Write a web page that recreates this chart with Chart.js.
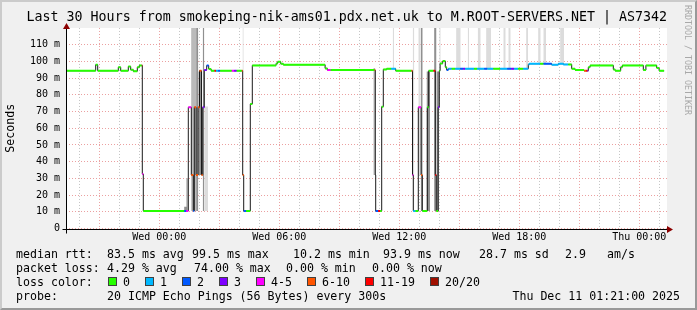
<!DOCTYPE html>
<html>
<head>
<meta charset="utf-8">
<script src="https://cdn.jsdelivr.net/npm/chart.js@4/dist/chart.umd.min.js"></script>
<style>
  html, body { margin: 0; padding: 0; background: #f0f0f0; }
  #wrap { position: relative; width: 697px; height: 310px; background: #f0f0f0; font-family: "DejaVu Sans Mono", monospace; overflow: hidden; }
  #wrap canvas { position: absolute; left: 0; top: 0; }
  .t { position: absolute; font-size: 11.6px; line-height: 14px; white-space: pre; color: #000; }
  .box { position: absolute; width: 9px; height: 9px; box-sizing: border-box; border: 1px solid #404040; }
  #mark { position: absolute; left: 683px; top: 5px; writing-mode: vertical-rl; font-size: 8.3px; line-height: 10px; color: #a8a8a8; white-space: pre; }
  #frame { position: absolute; left: 0; top: 0; right: 0; bottom: 0; border-style: solid; border-width: 2px; border-color: #cbcbcb #999 #999 #cbcbcb; pointer-events: none; }
</style>
</head>
<body>
<div id="wrap">
  <canvas id="smoke" width="697" height="310"></canvas>
  <div id="mark">RRDTOOL / TOBI OETIKER</div>

  <div class="t" style="left:16px;top:247px">median rtt:</div>
  <div class="t" style="left:107px;top:247px">83.5 ms avg</div>
  <div class="t" style="left:192px;top:247px">99.5 ms max</div>
  <div class="t" style="left:293px;top:247px">10.2 ms min</div>
  <div class="t" style="left:383px;top:247px">93.9 ms now</div>
  <div class="t" style="left:479px;top:247px">28.7 ms sd</div>
  <div class="t" style="left:565px;top:247px">2.9</div>
  <div class="t" style="left:607px;top:247px">am/s</div>

  <div class="t" style="left:16px;top:261px">packet loss:</div>
  <div class="t" style="left:107px;top:261px">4.29 % avg</div>
  <div class="t" style="left:194px;top:261px">74.00 % max</div>
  <div class="t" style="left:286px;top:261px">0.00 % min</div>
  <div class="t" style="left:372px;top:261px">0.00 % now</div>

  <div class="t" style="left:16px;top:274.5px">loss color:</div>
  <div id="lossLegend"></div>

  <div class="t" style="left:16px;top:288.5px">probe:</div>
  <div class="t" style="left:107px;top:288.5px">20 ICMP Echo Pings (56 Bytes) every 300s</div>
  <div class="t" style="right:17px;top:288.5px">Thu Dec 11 01:21:00 2025</div>

  <div id="frame"></div>
</div>
<script>
// hours relative to Wed 00:00
const stepStart = [-4.64, -3.18, -3.08, -2.05, -1.93, -1.55, -1.43, -1.30, -1.10, -1.00,
  -0.88, -0.85, -0.80, 1.24, 1.34, 1.45, 1.60, 1.70, 1.75, 1.84,
  1.94, 2.01, 2.11, 2.17, 2.25, 2.37, 2.47, 2.59, 2.75, 2.84,
  2.94, 3.04, 3.62, 3.74, 3.87, 4.12, 4.17, 4.22, 4.34, 4.55,
  4.65, 5.84, 5.92, 6.07, 6.20, 8.29, 8.40, 8.57, 10.75, 10.80,
  10.82, 10.94, 11.04, 11.12, 11.20, 11.37, 11.59, 11.82, 12.60, 12.66,
  12.70, 12.81, 12.95, 13.09, 13.15, 13.40, 13.47, 13.70, 13.80, 13.85,
  13.94, 14.00, 14.04, 14.17, 14.30, 14.37, 14.45, 14.62, 14.79, 15.04,
  15.19, 15.29, 15.74, 15.89, 16.24, 16.40, 16.70, 17.04, 17.39, 17.59,
  17.74, 17.94, 18.19, 18.45, 18.50, 19.04, 19.20, 19.62, 19.95, 20.20,
  20.45, 20.62, 20.79, 21.24, 21.34, 21.41, 21.45, 21.54, 22.70, 22.79,
  23.07, 23.15, 24.20, 24.33, 24.87, 24.99];
const lastSample = 25.24;

// median rtt (ms)
const stepMedian = [94.4, 98.0, 94.4, 96.5, 94.4, 96.9, 95.0, 94.1, 96.5, 97.6,
  97.6, 32.6, 10.5, 10.5, 10.5, 72.5, 32.0, 10.5, 72.5, 32.0,
  72.5, 94.4, 32.0, 72.5, 94.8, 97.5, 95.5, 94.4, 94.4, 94.4,
  94.4, 94.4, 94.4, 94.4, 94.4, 94.4, 32.0, 10.5, 10.5, 74.5,
  97.6, 98.8, 99.8, 98.6, 98.0, 95.8, 94.8, 94.8, 94.8, 32.0,
  10.5, 10.5, 10.5, 72.9, 95.2, 95.6, 95.6, 94.4, 94.4, 32.0,
  10.5, 10.5, 72.5, 32.0, 10.5, 72.5, 94.4, 94.4, 32.0, 10.5,
  72.5, 94.4, 98.8, 100.2, 96.5, 94.8, 95.6, 95.6, 95.6, 95.6,
  95.6, 95.6, 95.6, 95.6, 95.6, 95.6, 95.6, 95.6, 95.6, 95.6,
  95.6, 95.6, 95.6, 98.2, 98.6, 98.6, 98.6, 98.0, 98.6, 98.2,
  98.2, 95.6, 94.8, 94.4, 94.4, 94.4, 96.5, 97.6, 95.2, 94.4,
  96.5, 97.6, 94.8, 97.6, 96.1, 94.4];

// lost pings out of 20
const stepLoss = [0, 0, 0, 0, 0, 0, 0, 0, 0, 0,
  15, 5, 0, 2, 5, 5, 8, 2, 8, 8,
  8, 8, 8, 3, 3, 2, 0, 0, 15, 1,
  2, 0, 5, 3, 0, 8, 8, 2, 0, 0,
  0, 0, 0, 0, 0, 0, 5, 0, 8, 8,
  2, 15, 0, 0, 0, 0, 1, 0, 8, 5,
  1, 0, 5, 8, 0, 0, 0, 15, 15, 0,
  3, 0, 0, 0, 0, 2, 1, 0, 1, 2,
  3, 1, 0, 1, 2, 1, 0, 1, 2, 3,
  1, 0, 1, 1, 1, 0, 2, 1, 1, 1,
  0, 0, 0, 8, 15, 3, 0, 0, 0, 0,
  0, 0, 0, 0, 0, 0];

// smoke: spread of the individual pings
const smokeFrom  = [1.24, 1.34, 1.59, 1.70, 1.84, 1.95, 2.17, 2.25, 4.16, 10.70,
  11.67, 12.67, 12.95, 13.07, 13.36, 13.74, 13.86, 14.00, 14.84, 15.42,
  15.92, 16.34, 17.20, 17.45, 18.34, 18.94, 19.20, 20.04];
const smokeTo    = [1.40, 1.45, 1.84, 1.84, 1.95, 2.11, 2.25, 2.44, 4.22, 10.80,
  11.74, 12.75, 13.07, 13.17, 13.54, 13.86, 13.99, 14.07, 15.07, 15.49,
  16.07, 16.59, 17.32, 17.57, 18.44, 19.07, 19.34, 20.24];
const smokeLo    = [10.5, 10.5, 10.5, 10.5, 10.5, 32, 10.5, 10.5, 94, 32,
  96, 10.5, 32, 10.5, 10.5, 10.5, 10.5, 95, 96, 96,
  96, 96, 96, 96, 96, 98.5, 98.5, 98.5];
const smokeHi    = [13, 30, 120, 94, 120, 94, 120, 73, 120, 96,
  120, 120, 120, 120, 94, 120, 94, 120, 120, 120,
  120, 120, 120, 120, 120, 120, 120, 120];
const smokeShade = [3, 2, 2, 3, 3, 3, 3, 1, 1, 2,
  1, 1, 1, 3, 3, 3, 3, 1, 1, 1,
  1, 1, 1, 1, 1, 1, 1, 1];

const tickHours = [0, 6, 12, 18, 24];
const tickLabels = ['Wed 00:00', 'Wed 06:00', 'Wed 12:00', 'Wed 18:00', 'Thu 00:00'];

const lossBands = [0, 1, 2, 3, 5, 10, 19, 20];
const lossNames = ['0', '1', '2', '3', '4-5', '6-10', '11-19', '20/20'];
const lossColors = ['#26ff00', '#00b8ff', '#0059ff', '#7e00ff', '#ff00ff', '#ff5500', '#ff0000', '#a01000'];
const shadeColors = ['', '#dcdcdc', '#bababa', '#909090'];

const FONT = '"DejaVu Sans Mono", monospace';
const GRID_MINOR = '#c4c4c4';
const GRID_MAJOR = '#eba0a0';

const bandOf = n => lossBands.findIndex(b => n <= b);
const stepEnd = stepStart.slice(1).concat(lastSample);

const datasets = [];

// smoke
smokeFrom.forEach((t, i) => {
  datasets.push({
    data: [{x: t, y: smokeHi[i]}, {x: smokeTo[i], y: smokeHi[i]}],
    fill: {value: smokeLo[i]},
    backgroundColor: shadeColors[smokeShade[i]],
    borderColor: 'rgba(0,0,0,0)',
    borderWidth: 1,
    pointRadius: 0,
    order: 3
  });
});

// black step line under the coloured median (horizontal first, then the jump)
datasets.push({
  data: stepStart.map((t, i) => ({x: t, y: stepMedian[i]})).concat({x: lastSample, y: stepMedian[stepMedian.length - 1]}),
  stepped: 'before',
  borderColor: '#1a1a1a',
  borderWidth: 1,
  pointRadius: 0,
  fill: false,
  order: 2
});

// median coloured by loss
lossBands.forEach((b, k) => {
  const pts = [];
  stepStart.forEach((t, i) => {
    if (bandOf(stepLoss[i]) !== k) return;
    pts.push({x: t, y: stepMedian[i]}, {x: stepEnd[i], y: stepMedian[i]}, {x: stepEnd[i], y: null});
  });
  datasets.push({
    data: pts,
    borderColor: lossColors[k],
    borderWidth: 2,
    borderCapStyle: 'butt',
    pointRadius: 0,
    spanGaps: false,
    fill: false,
    order: 1
  });
});

// legend boxes for loss colours
const boxLeft = [108, 145, 182, 219, 256, 307, 365, 430];
const legend = document.getElementById('lossLegend');
lossNames.forEach((name, k) => {
  const b = document.createElement('div');
  b.className = 'box';
  b.style.left = boxLeft[k] + 'px';
  b.style.top = '277px';
  b.style.background = lossColors[k];
  legend.appendChild(b);
  const s = document.createElement('div');
  s.className = 't';
  s.style.left = (boxLeft[k] + 15) + 'px';
  s.style.top = '274.5px';
  s.textContent = name;
  legend.appendChild(s);
});

const rrdFrame = {
  id: 'rrdFrame',
  beforeDraw(chart) {
    const {ctx, chartArea: a} = chart;
    ctx.save();
    ctx.fillStyle = '#ffffff';
    ctx.fillRect(a.left, a.top, a.right - a.left, a.bottom - a.top);
    ctx.restore();
  },
  afterDraw(chart) {
    const {ctx, chartArea: a} = chart;
    const x0 = Math.round(a.left) + 0.5;
    const y0 = Math.round(a.bottom) + 0.5;
    ctx.save();
    ctx.strokeStyle = '#000';
    ctx.lineWidth = 1;
    ctx.beginPath();
    ctx.moveTo(x0, y0 + 4);
    ctx.lineTo(x0, a.top - 1);
    ctx.moveTo(x0 - 4, y0);
    ctx.lineTo(a.right + 1, y0);
    ctx.stroke();
    ctx.fillStyle = '#8b0000';
    ctx.beginPath();
    ctx.moveTo(x0, a.top - 5);
    ctx.lineTo(x0 - 3.5, a.top + 1);
    ctx.lineTo(x0 + 3.5, a.top + 1);
    ctx.closePath();
    ctx.fill();
    ctx.beginPath();
    ctx.moveTo(a.right + 6, y0);
    ctx.lineTo(a.right, y0 - 3.5);
    ctx.lineTo(a.right, y0 + 3.5);
    ctx.closePath();
    ctx.fill();
    ctx.restore();
  }
};

const config = {
  type: 'line',
  data: {datasets},
  options: {
    responsive: false,
    animation: false,
    events: [],
    layout: {padding: {left: 0, right: 30, top: 0, bottom: 61.5}},
    plugins: {
      legend: {display: false},
      tooltip: {enabled: false},
      title: {
        display: true,
        align: 'end',
        text: 'Last 30 Hours from smokeping-nik-ams01.pdx.net.uk to M.ROOT-SERVERS.NET | AS7342',
        color: '#000',
        font: {family: FONT, size: 13.3, weight: 'normal'},
        padding: {top: 10, bottom: 2}
      }
    },
    scales: {
      x: {
        type: 'linear',
        min: -4.665,
        max: 25.385,
        afterBuildTicks(scale) {
          const ticks = [];
          for (let h = -4; h <= 25; h++) ticks.push({value: h});
          scale.ticks = ticks;
        },
        afterFit(scale) { scale.height = 20; },
        grid: {
          color: ctx => (ctx.tick && ctx.tick.value % 3 === 0) ? GRID_MAJOR : GRID_MINOR,
          lineWidth: 1,
          drawTicks: false
        },
        border: {display: false, dash: [1, 2]},
        ticks: {
          autoSkip: false,
          maxRotation: 0,
          padding: 3,
          color: '#000',
          font: {family: FONT, size: 10},
          callback: v => {
            const i = tickHours.indexOf(v);
            return i < 0 ? '' : tickLabels[i];
          }
        }
      },
      y: {
        type: 'linear',
        min: 0,
        max: 120,
        afterBuildTicks(scale) {
          const ticks = [];
          for (let v = 0; v < 120; v += 5) ticks.push({value: v});
          scale.ticks = ticks;
        },
        afterFit(scale) { scale.width = 66; },
        title: {
          display: true,
          text: 'Seconds',
          color: '#000',
          font: {family: FONT, size: 11.6},
          padding: {top: 4, bottom: 0}
        },
        grid: {
          color: ctx => (ctx.tick && ctx.tick.value % 10 === 0) ? GRID_MAJOR : GRID_MINOR,
          lineWidth: 1,
          drawTicks: false
        },
        border: {display: false, dash: [1, 2]},
        ticks: {
          padding: 6,
          color: '#000',
          font: {family: FONT, size: 10},
          callback: v => v === 0 ? '0' : (v % 10 === 0 ? v + ' m' : '')
        }
      }
    }
  },
  plugins: [rrdFrame]
};

const smokeChart = new Chart(document.getElementById('smoke'), config);
</script>
</body>
</html>
